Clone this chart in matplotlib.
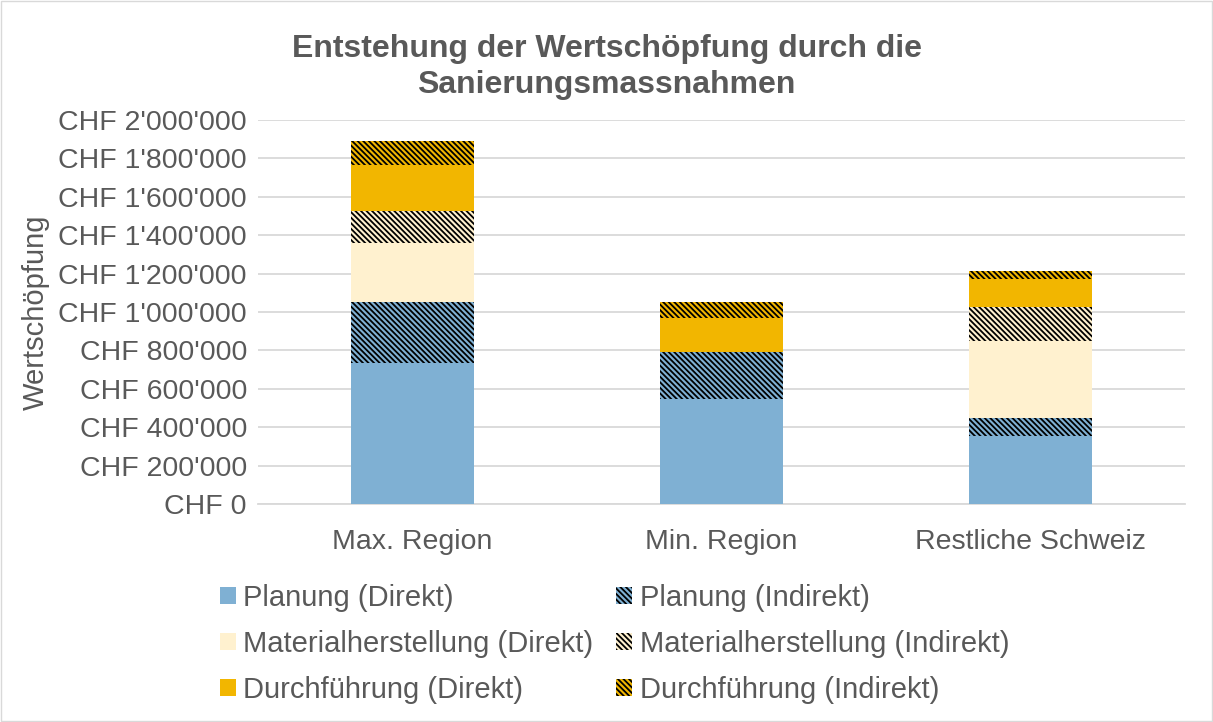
import numpy as np
import matplotlib.pyplot as plt
from matplotlib.ticker import FuncFormatter
from matplotlib.patches import Rectangle

plt.rcParams['font.family'] = ['Liberation Sans', 'DejaVu Sans']
plt.rcParams['hatch.linewidth'] = 1.3

# Kategorien und Werte (CHF)
regionen = ["Max. Region", "Min. Region", "Restliche Schweiz"]
planung_direkt = [734000, 547000, 354000]
planung_indirekt = [318000, 245000, 94000]
material_direkt = [307000, 0, 401000]
material_indirekt = [167000, 0, 177000]
durchf_direkt = [240000, 177000, 146000]
durchf_indirekt = [124000, 83000, 41000]

schraffur = "\\" * 6
serien = [
    ("Planung (Direkt)", planung_direkt, "#7fb0d3", None),
    ("Planung (Indirekt)", planung_indirekt, "#7fb0d3", schraffur),
    ("Materialherstellung (Direkt)", material_direkt, "#fff1cf", None),
    ("Materialherstellung (Indirekt)", material_indirekt, "#fff1cf", schraffur),
    ("Durchführung (Direkt)", durchf_direkt, "#f2b600", None),
    ("Durchführung (Indirekt)", durchf_indirekt, "#f2b600", schraffur),
]

grau = "#595959"

fig = plt.figure(figsize=(12.13, 7.22), dpi=100)
ax = fig.add_axes([258/1213, 1-504/722, (1185-258)/1213, (504-120)/722])

x = np.arange(len(regionen))
unten = np.zeros(len(regionen))
handles = {}
for name, werte, farbe, hatch in serien:
    werte = np.array(werte, dtype=float)
    b = ax.bar(x, werte, 0.395, bottom=unten, color=farbe, hatch=hatch,
               edgecolor="black" if hatch else farbe, linewidth=0, zorder=3, label=name)
    handles[name] = b
    unten += werte

ax.set_xlim(-0.5, 2.5)
ax.set_ylim(0, 2000000)
ax.set_yticks(np.arange(0, 2000001, 200000))
ax.yaxis.set_major_formatter(FuncFormatter(lambda v, p: "CHF " + f"{int(v):,}".replace(",", "'")))
ax.set_xticks(x)
ax.set_xticklabels(regionen)
ax.tick_params(axis="both", length=0, labelsize=20.5, colors=grau)
ax.tick_params(axis="y", pad=8)
ax.tick_params(axis="x", pad=18)
ax.grid(axis="y", color="#d9d9d9", linewidth=1.3, zorder=0)
for s in ["top", "right", "left"]:
    ax.spines[s].set_visible(False)
ax.spines["bottom"].set_color("#d9d9d9")
ax.spines["bottom"].set_linewidth(1.3)

fig.text(36/1213, 1-312/722, "Wertschöpfung", rotation=90, ha="center", va="center",
         fontsize=21, color=grau)

fig.text(0.5, 1-67/722, "Entstehung der Wertschöpfung durch die\nSanierungsmassnahmen",
         ha="center", va="center", fontsize=23, fontweight="bold", color=grau, linespacing=1.3)

reihenfolge = ["Planung (Direkt)", "Materialherstellung (Direkt)", "Durchführung (Direkt)",
               "Planung (Indirekt)", "Materialherstellung (Indirekt)", "Durchführung (Indirekt)"]
leg = fig.legend([handles[n] for n in reihenfolge], reihenfolge, ncol=2,
                 loc="upper left", bbox_to_anchor=(208/1213, 1-572/722), frameon=False,
                 fontsize=21, handlelength=0.55, handleheight=0.55, handletextpad=0.25,
                 columnspacing=0.8, labelspacing=0.62, labelcolor=grau, borderaxespad=0)

fig.patches.append(Rectangle((0.001, 0.001), 0.998, 0.998, transform=fig.transFigure,
                             fill=False, edgecolor="#d9d9d9", linewidth=1))

fig.savefig("out.png", dpi=100)
